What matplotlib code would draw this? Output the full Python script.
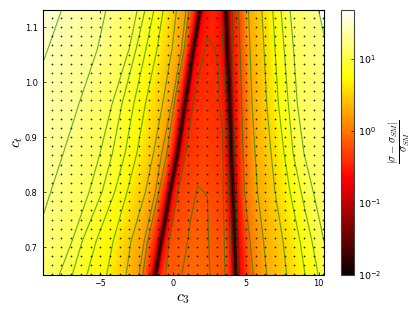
import numpy as np
import matplotlib
matplotlib.use("Agg")
import matplotlib.pyplot as plt
from matplotlib.colors import LogNorm

plt.rcParams['mathtext.fontset'] = 'cm'

# Rows of c_t at which every curve below is read
ct_rows = [1.132, 1.06, 0.96, 0.87, 0.80, 0.71, 0.65]

# Curves of equal value: c3 position on each row, log10 of the value
edge_left = [-9.5, -10.3, -11.6, -12.6, -13.6, -15.0, -15.8]
L1 = [-7.65, -8.6, -10.0, -11.0, -12.0, -13.3, -14.0]
L2 = [-4.60, -5.2, -6.47, -7.55, -8.41, -9.5, -10.2]
L3 = [-2.45, -3.02, -4.19, -5.02, -5.77, -6.95, -7.81]
L4 = [-1.92, -2.54, -3.51, -4.17, -4.88, -6.25, -6.92]
L5 = [-1.31, -1.86, -2.70, -3.30, -4.01, -5.29, -5.91]
L6 = [-0.67, -1.10, -1.90, -2.49, -3.16, -4.12, -4.56]
L7 = [0.24, -0.07, -0.72, -1.35, -1.90, -2.89, -3.23]
L8 = [0.89, 0.58, -0.09, -0.78, -1.22, -1.99, -2.34]
L9 = [1.10, 0.76, 0.07, -0.43, -0.98, -1.75, -2.08]
red_a = [1.61, 1.16, 0.57, 0.05, -0.46, -1.07, -1.47]
dip_a = [1.86, 1.41, 0.82, 0.30, -0.21, -0.82, -1.22]
red_b = [2.11, 1.66, 1.07, 0.55, 0.04, -0.57, -0.97]
mid_a = [2.51, 2.06, 1.47, 0.95, 0.44, -0.17, -0.57]
middle = [2.74, 2.56, 2.35, 2.15, 1.94, 1.67, 1.58]
mid_b = [3.01, 3.11, 3.28, 3.39, 3.49, 3.63, 3.70]
red_c = [3.36, 3.46, 3.63, 3.74, 3.84, 3.98, 4.05]
dip_b = [3.61, 3.71, 3.88, 3.99, 4.09, 4.23, 4.30]
red_d = [3.96, 4.06, 4.23, 4.34, 4.44, 4.58, 4.65]
R_F = [4.49, 4.60, 4.72, 4.81, 4.91, 5.29, 5.52]
R_E = [5.18, 5.29, 5.43, 5.64, 5.81, 6.22, 6.44]
R_D = [6.10, 6.25, 6.44, 6.74, 7.01, 7.56, 7.81]
R_C = [6.85, 7.01, 7.24, 7.63, 8.04, 8.73, 9.07]
R_B = [7.42, 7.63, 7.92, 8.25, 8.80, 9.55, 9.97]
R_A = [8.04, 8.28, 8.54, 9.00, 9.64, 10.38, 10.85]
R_corner = [9.99, 10.6, 11.5, 12.0, 12.8, 13.5, 14.0]

log_edge_left = [1.62] * 7
log_L1 = [1.42] * 7
log_L2 = [1.25] * 7
log_L3 = [1.05] * 7
log_L4 = [0.96] * 7
log_L5 = [0.84] * 7
log_L6 = [0.70] * 7
log_L7 = [0.40] * 7
log_L8 = [0.2] * 7
log_L9 = [0.05] * 7
log_red = [-0.65] * 7
log_dip = [-2.0] * 7
log_mid_side = [-0.52, -0.5, -0.44, -0.38, -0.3, -0.22, -0.18]
log_middle = [-0.48, -0.44, -0.36, -0.28, -0.2, -0.1, -0.05]
log_R_F = [-0.3, -0.28, -0.22, -0.15, -0.08, 0.0, 0.05]
log_R_E = [0.28] * 7
log_R_D = [0.5] * 7
log_R_C = [0.76] * 7
log_R_B = [0.92] * 7
log_R_A = [1.08] * 7
log_R_corner = [1.25] * 7

# Further contour lines, drawn only
M_c3 = [3.30, 3.61, 3.85, 4.05]
M_ct = [1.132, 0.958, 0.785, 0.65]
G_c3 = [4.07, 4.14, 4.33, 4.47]
G_ct = [1.132, 0.958, 0.785, 0.65]
arch1_c3 = [-0.52, -0.27, 0.34, 0.86, 1.37, 1.79, 2.06, 2.20, 2.34, 2.54, 2.89, 3.11, 3.18, 3.42, 3.46, 3.57]
arch1_ct = [0.65, 0.71, 0.80, 0.87, 0.958, 1.016, 1.044, 1.062, 1.078, 1.076, 1.061, 1.025, 0.958, 0.906, 0.785, 0.65]
arch2_c3 = [0.60, 0.94, 1.17, 1.63, 1.72, 2.20, 2.36, 2.43, 2.54]
arch2_ct = [0.65, 0.70, 0.744, 0.804, 0.811, 0.798, 0.791, 0.725, 0.65]

# Sample points shown as dots
dot_c3 = [-9.0, -8.33, -7.67, -7.0, -6.33, -5.67, -5.0, -4.33, -3.67, -3.0,
          -2.33, -1.67, -1.0, -0.33, 0.33, 1.0, 1.67, 2.33, 3.0, 3.67,
          4.33, 5.0, 5.67, 6.33, 7.0, 7.67, 8.33, 9.0, 9.67, 10.33]
dot_ct = [0.65, 0.667, 0.683, 0.70, 0.717, 0.733, 0.75, 0.767, 0.783, 0.80,
          0.817, 0.833, 0.85, 0.867, 0.883, 0.90, 0.917, 0.933, 0.95, 0.967,
          0.983, 1.00, 1.017, 1.033, 1.05, 1.067, 1.083, 1.10, 1.117, 1.133]

x_ticks = [-5, 0, 5, 10]
y_ticks = [0.7, 0.8, 0.9, 1.0, 1.1]
x_label = r'$c_3$'
y_label = r'$c_t$'
cbar_label = r'$\frac{|\sigma-\sigma_{SM}|}{\sigma_{SM}}$'

columns = [edge_left, L1, L2, L3, L4, L5, L6, L7, L8, L9, red_a, dip_a, red_b, mid_a, middle, mid_b,
           red_c, dip_b, red_d, R_F, R_E, R_D, R_C, R_B, R_A, R_corner]
logs = [log_edge_left, log_L1, log_L2, log_L3, log_L4, log_L5, log_L6, log_L7, log_L8, log_L9,
        log_red, log_dip, log_red, log_mid_side, log_middle, log_mid_side, log_red, log_dip, log_red,
        log_R_F, log_R_E, log_R_D, log_R_C, log_R_B, log_R_A, log_R_corner]
row_curves = [L1, L2, L3, L4, L5, L6, L7, L8, L9, R_F, R_E, R_D, R_C, R_B, R_A, R_corner]

W, H = 415, 312
fig = plt.figure(figsize=(W / 100, H / 100), dpi=100)
ax = fig.add_axes([42.5 / W, (H - 274.5) / H, 281 / W, 265 / H])
cax = fig.add_axes([340.7 / W, (H - 274.5) / H, 13.3 / W, 265 / H])

X = np.array(columns).T
Y = np.tile(np.array(ct_rows)[:, None], (1, X.shape[1]))
C = 10.0 ** np.array(logs).T
norm = LogNorm(vmin=0.01, vmax=49)
mesh = ax.pcolormesh(X, Y, C, shading='gouraud', cmap='hot', norm=norm, rasterized=True)

line_style = dict(color='green', alpha=0.6, lw=0.85)
for curve in row_curves:
    ax.plot(curve, ct_rows, **line_style)
ax.plot(M_c3, M_ct, **line_style)
ax.plot(G_c3, G_ct, **line_style)
ax.plot(arch1_c3, arch1_ct, **line_style)
ax.plot(arch2_c3, arch2_ct, **line_style)

dx, dy = np.meshgrid(dot_c3, dot_ct)
ax.plot(dx.ravel(), dy.ravel(), ls='none', marker='o', ms=1.25, mfc='black', mec='none', alpha=0.85)

ax.set_xlim(-8.97, 10.34)
ax.set_ylim(0.65, 1.132)
ax.set_xticks(x_ticks)
ax.set_yticks(y_ticks)
ax.tick_params(direction='in', length=2, width=0.5, labelsize=5.9, top=True, right=True, pad=3.5)
ax.set_xlabel(x_label, fontsize=11.5, labelpad=2)
ax.set_ylabel(y_label, fontsize=11.5, labelpad=0)
for s in ax.spines.values():
    s.set_linewidth(0.8)

cb = fig.colorbar(mesh, cax=cax)
cb.ax.minorticks_off()
cb.ax.tick_params(direction='in', length=2, width=0.5, labelsize=6.8, pad=3)
cb.outline.set_linewidth(0.8)
cb.outline.set_edgecolor('#444444')
cb.set_label(cbar_label, fontsize=11, labelpad=3)

fig.savefig('out.png', dpi=100)
